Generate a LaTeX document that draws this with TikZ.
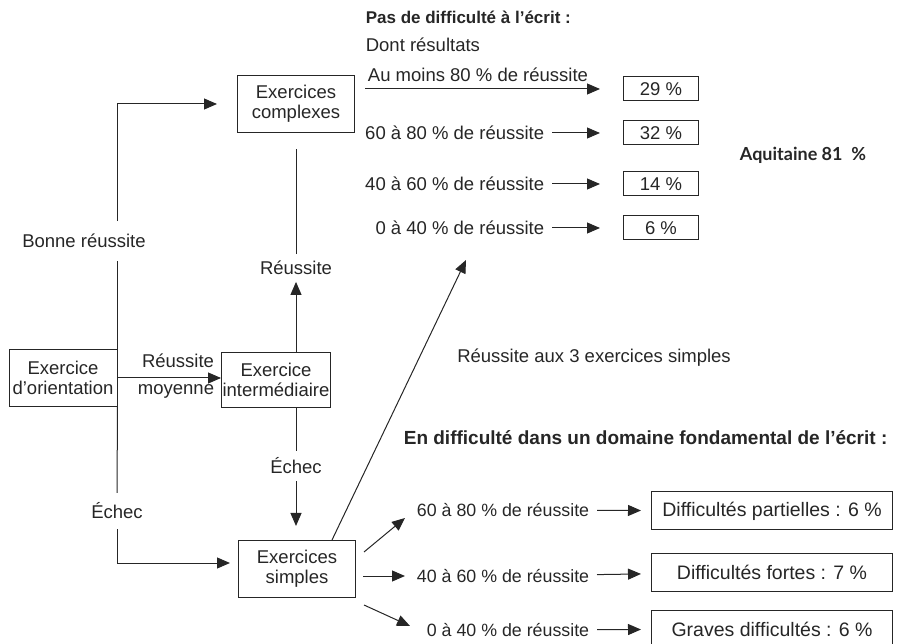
\documentclass[tikz,border=0pt]{standalone}
\usepackage{fontspec}
\setmainfont{Liberation Sans}
\newfontfamily\aqfont{Lato}
\usetikzlibrary{arrows.meta}

\begin{document}
\begin{tikzpicture}[x=1pt,y=-1pt,>={Triangle[length=13pt,width=11pt]},
    line width=1pt,color=black!85,font=\fontsize{18.5}{20}\selectfont,
    box node/.style={rectangle,draw,align=center,inner sep=1pt,minimum height=57pt},
    pct node/.style={rectangle,draw,minimum width=75pt,minimum height=24pt,inner sep=0pt},
    diff node/.style={rectangle,draw,minimum width=241pt,minimum height=38pt,inner sep=0pt,
        font=\fontsize{19.5}{21}\selectfont},
    low node/.style={anchor=east,font=\fontsize{17.8}{20}\selectfont},
    gap node/.style={inner sep=0pt,outer sep=#1},
    head node/.style={anchor=west,font=\fontsize{#1}{20}\selectfont\bfseries}]
    \useasboundingbox (0,0) rectangle (898,644);
    \node[box node,minimum width=108pt] (1) at (63,378) {Exercice\\d'orientation};
    \node[box node,minimum width=108pt,minimum height=55pt] (2) at (276,380) {Exercice\\intermédiaire};
    \node[box node,minimum width=117pt] (3) at (296,104) {Exercices\\complexes};
    \node[box node,minimum width=117pt] (4) at (297,569) {Exercices\\simples};
    \node[pct node] (5) at (661,89) {29 \%};
    \node[pct node] (6) at (661,133) {32 \%};
    \node[pct node] (7) at (661,184) {14 \%};
    \node[pct node] (8) at (661,228) {6 \%};
    \node[diff node] (9) at (772,511) {Difficultés partielles : 6 \%};
    \node[diff node] (10) at (772,572) {Difficultés fortes : 7 \%};
    \node[diff node] (11) at (772,629) {Graves difficultés : 6 \%};
    \node[gap node=13pt] (12) at (84,241) {Bonne réussite};
    \node[gap node=10pt] (13) at (117,511) {Échec};
    \node[gap node=7pt] (14) at (296,268) {Réussite};
    \node[gap node=7pt] (15) at (296,466) {Échec};
    \node (16) at (178,361) {Réussite};
    \node (17) at (176,391) {moyenne};
    \node (18) at (594,358) {Réussite aux 3 exercices simples};
    \node (19) at (478,75) {Au moins 80 \% de réussite};
    \node[anchor=east] (20) at (548,133) {60 à 80 \% de réussite};
    \node[anchor=east] (21) at (548,184) {40 à 60 \% de réussite};
    \node[anchor=east] (22) at (548,228) {0 à 40 \% de réussite};
    \node[low node] (23) at (593,510) {60 à 80 \% de réussite};
    \node[low node] (24) at (593,576) {40 à 60 \% de réussite};
    \node[low node] (25) at (593,630) {0 à 40 \% de réussite};
    \node[head node=17] (26) at (362,17) {Pas de difficulté à l'écrit :};
    \node[anchor=west] (27) at (362,45) {Dont résultats};
    \node[head node=19] (28) at (400,438) {En difficulté dans un domaine fondamental de l'écrit :};
    \node[font=\aqfont\fontsize{18}{20}\selectfont\bfseries] (29) at (803,155) {Aquitaine 81\ \ \%};
    \coordinate (a) at (466,260);
    \coordinate (b) at (405,518);
    \coordinate (c) at (405,576);
    \coordinate (d) at (410,626);
    \draw (1.north east) -- (12.south -| 1.east);
    \draw[->,shorten >=20pt] (12.north -| 1.east) |- (3.west);
    \draw (1.south east) -- (13.north);
    \draw[->,shorten >=8pt] (13.south) |- ([yshift=6pt]4.west);
    \draw[->] (1.east) -- (1.east -| 2.west);
    \draw[->] (2.north -| 14) -- (14);
    \draw[shorten >=16pt] (14) -- (14 |- 3.south);
    \draw (2.south -| 15) -- (15);
    \draw[->,shorten >=14pt] (15) -- (15 |- 4.north);
    \draw[->] ([xshift=35pt]4.north) -- (a);
    \draw[->] ([shift={(8pt,17pt)}]4.east) -- (b);
    \draw[->] ([shift={(7pt,-7pt)}]4.east) -- (c);
    \draw[->] ([shift={(8pt,-36pt)}]4.east) -- (d);
    \draw[->,shorten <=10pt,shorten >=23pt] (3.east |- 5) -- (5);
    \path[->,shorten <=4pt,shorten >=23pt]
    (20) edge (6)
    (21) edge (7)
    (22) edge (8);
    \path[->,shorten <=4pt,shorten >=10pt]
    (23) edge (9)
    (24) edge (10)
    (25) edge (11);
\end{tikzpicture}
\end{document}
